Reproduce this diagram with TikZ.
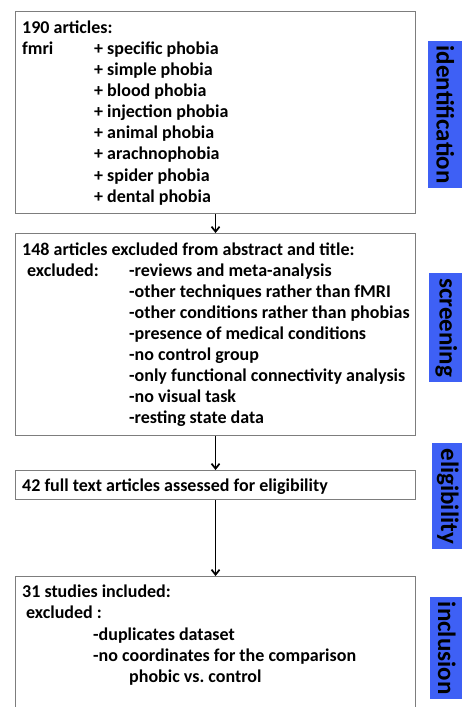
\documentclass[tikz,border=0pt]{standalone}
\usepackage{fontspec}
\setmainfont{Carlito}
\usetikzlibrary{arrows.meta}
\definecolor{labelblue}{RGB}{62,96,245}
\definecolor{boxgray}{RGB}{125,125,125}
\tikzset{
  flowbox/.style={draw=boxgray, line width=1.1pt, inner sep=0pt, anchor=north west, minimum width=400pt},
  txt/.style={anchor=base west, inner sep=0pt, font=\fontsize{18}{20}\selectfont\bfseries},
  stagebox/.style={fill=labelblue, inner sep=0pt, anchor=north west, minimum width=34pt, font=\fontsize{25}{28}\selectfont\bfseries},
  flowarrow/.style={line width=1.7pt, -{Straight Barb[length=5pt,width=8pt]}}
}
\begin{document}
\begin{tikzpicture}[x=1pt,y=-1pt]
\clip (0,0) rectangle (462,707);
\fill[white] (0,0) rectangle (462,707);
% boxes
\node[flowbox, minimum height=202pt] (b1) at (15,11) {};
\node[flowbox, minimum height=202pt] (b2) at (15,233) {};
\node[flowbox, minimum height=29pt] (b3) at (15,470) {};
\node[flowbox, minimum height=150pt] (b4) at (15,576) {};
% box 1 text
\node[txt] (t1a) at (22,33) {190 articles:};
\node[txt] (t1b) at (22,54) {fmri};
\node[txt] (t1c) at (94,54) {+ specific phobia};
\node[txt] (t1d) at (94,75) {+ simple phobia};
\node[txt] (t1e) at (94,96) {+ blood phobia};
\node[txt] (t1f) at (94,117) {+ injection phobia};
\node[txt] (t1g) at (94,138) {+ animal phobia};
\node[txt] (t1h) at (94,159.5) {+ arachnophobia};
\node[txt] (t1i) at (94,181) {+ spider phobia};
\node[txt] (t1j) at (94,202) {+ dental phobia};
% box 2 text
\node[txt] (t2a) at (22,255) {148 articles excluded from abstract and title:};
\node[txt] (t2b) at (27,276.5) {excluded:};
\node[txt] (t2c) at (129,276.5) {-reviews and meta-analysis};
\node[txt] (t2d) at (129,297.5) {-other techniques rather than fMRI};
\node[txt] (t2e) at (129,318.5) {-other conditions rather than phobias};
\node[txt] (t2f) at (129,339.5) {-presence of medical conditions};
\node[txt] (t2g) at (129,360.5) {-no control group};
\node[txt] (t2h) at (129,381.5) {-only functional connectivity analysis};
\node[txt] (t2i) at (129,402.5) {-no visual task};
\node[txt] (t2j) at (129,423.5) {-resting state data};
% box 3 text
\node[txt] (t3a) at (22,491.5) {42 full text articles assessed for eligibility};
% box 4 text
\node[txt] (t4a) at (22,597) {31 studies included:};
\node[txt] (t4b) at (26,618.5) {excluded :};
\node[txt] (t4c) at (93,640) {-duplicates dataset};
\node[txt] (t4d) at (93,661) {-no coordinates for the comparison};
\node[txt] (t4e) at (129,682) {phobic vs.\ control};
% arrows
\draw[flowarrow] (b1.south) -- (b2.north);
\draw[flowarrow] (b2.south) -- (b3.north);
\draw[flowarrow] (b3.south) -- (b4.north);
% stage labels
\node[stagebox, minimum height=147pt] (s1) at (428,41) {\rotatebox{-90}{identification}};
\node[stagebox, minimum height=109pt] (s2) at (429,273) {\rotatebox{-90}{screening}};
\node[stagebox, minimum height=106pt, minimum width=31pt] (s3) at (432,443) {\rotatebox{-90}{eligibility}};
\node[stagebox, minimum height=102pt, minimum width=33pt] (s4) at (430,597) {\rotatebox{-90}{inclusion}};
\end{tikzpicture}
\end{document}
